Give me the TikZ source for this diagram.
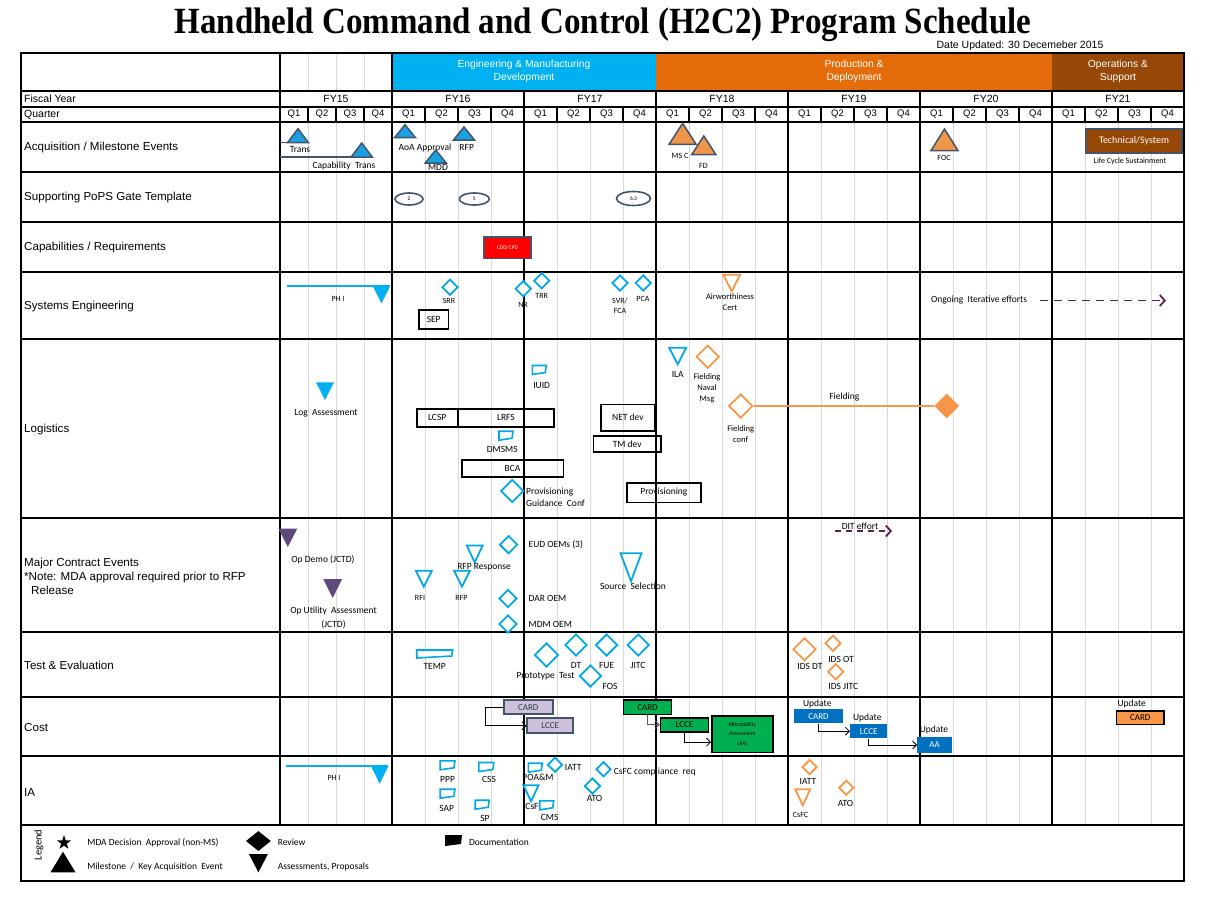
\documentclass[tikz,border=0pt]{standalone}
\usepackage{fontspec}
\setmainfont{Liberation Sans}
\newfontfamily\calibri{Carlito}
\newfontfamily\titlefont{Liberation Serif}
\usepackage{tikz}
\usetikzlibrary{shapes.geometric}
\usetikzlibrary{arrows.meta}
\usetikzlibrary{positioning}

\definecolor{emdblue}{RGB}{0,176,240}
\definecolor{prodorange}{RGB}{228,108,10}
\definecolor{opsbrown}{RGB}{151,71,6}
\definecolor{gridgray}{RGB}{217,217,217}
\definecolor{slate}{RGB}{68,84,106}
\definecolor{msblue}{RGB}{27,161,226}
\definecolor{msorange}{RGB}{240,150,74}
\definecolor{revblue}{RGB}{0,168,232}
\definecolor{revorange}{RGB}{247,150,70}
\definecolor{demopurple}{RGB}{95,73,122}
\definecolor{effpurple}{RGB}{90,30,85}
\definecolor{lavender}{RGB}{204,192,218}
\definecolor{costgreen}{RGB}{0,176,80}
\definecolor{costblue}{RGB}{0,112,192}

\tikzset{
  thickrule/.style={line width=2.8pt},
  qrule/.style={line width=1.6pt},
  gridline/.style={gridgray, line width=0.8pt},
  rowlbl/.style={anchor=west, inner sep=0pt, font=\fontsize{11.6}{14}\selectfont},
  hdrlbl/.style={inner sep=0pt, font=\fontsize{10.5}{12}\selectfont},
  qlbl/.style={inner sep=0pt, font=\fontsize{9.5}{11}\selectfont},
  phaselbl/.style={inner sep=0pt, text=white, align=center, font=\fontsize{10.3}{13}\selectfont},
  lbl/.style={inner sep=0pt, font=\calibri\fontsize{9.5}{11}\selectfont},
  lbls/.style={inner sep=0pt, font=\calibri\fontsize{8}{10}\selectfont},
  lblm/.style={inner sep=0pt, font=\calibri\fontsize{8.5}{10.8}\selectfont},
  rev/.style={diamond, draw=revblue, fill=white, line width=1.8pt, inner sep=0pt, minimum size=#1},
  revo/.style={diamond, draw=revorange, fill=white, line width=1.8pt, inner sep=0pt, minimum size=#1},
  ms/.style={fill=msblue, draw=slate, line width=1.5pt},
  mso/.style={fill=msorange, draw=slate, line width=1.5pt},
  assess/.style={draw=revblue, fill=white, line width=1.8pt},
  assesso/.style={draw=revorange, fill=white, line width=1.8pt},
  docb/.style={draw=revblue, fill=white, line width=1.6pt},
  gate/.style={ellipse, draw=slate, fill=white, line width=1.6pt, minimum width=28pt, minimum height=12pt, inner sep=0pt, font=\calibri\fontsize{5.5}{6}\selectfont},
  taskbox/.style={draw, line width=1.6pt, inner sep=0pt, font=\calibri\fontsize{9.5}{11}\selectfont},
  costbox/.style={inner sep=0pt, font=\calibri\fontsize{9}{11}\selectfont},
  costarr/.style={-{Straight Barb[length=4pt,width=8pt]}, line width=0.8pt},
  effort/.style={effpurple, line width=1.8pt, dash pattern=on 8pt off 6pt, -{Straight Barb[length=5pt,width=11pt]}},
  pics/uptri/.style 2 args={code={
    \path[pic actions] (-#1/2,0) -- (#1/2,0) -- (0,-#2) -- cycle;
    \coordinate (-w) at (-#1/2,0);
    \coordinate (-e) at (#1/2,0);}},
  pics/dntri/.style 2 args={code={
    \path[pic actions] (-#1/2,0) -- (#1/2,0) -- (0,#2) -- cycle;
    \coordinate (-w) at (-#1/2,0);
    \coordinate (-e) at (#1/2,0);}},
  pics/docu/.style 2 args={code={
    \path[pic actions] (-#1/2,-#2/2) -- (#1/2,-#2/2) -- (#1/2-1,#2/2-2) -- (-#1/2,#2/2) -- cycle;}},
}

\begin{document}
\begin{tikzpicture}[x=1pt,y=-1pt]
\useasboundingbox (0,0) rectangle (1206,908);

% title
\node[font=\titlefont\bfseries\fontsize{33}{38}\selectfont, inner sep=0pt] (title) at (603,25) {\scalebox{1}[1.12]{Handheld Command and Control (H2C2) Program Schedule}};
\node[font=\fontsize{10.5}{12}\selectfont, inner sep=0pt] (date) at (1020,46) {Date Updated: 30 Decemeber 2015};

% phases
\foreach \x in {308,336,364} \draw[gridline] (\x,53) -- (\x,91);
\fill[emdblue] (392,53) rectangle (656,91);
\fill[prodorange] (656,53) rectangle (1052,91);
\fill[opsbrown] (1052,53) rectangle (1184,91);
\node[phaselbl] (emd) at (524,71.5) {Engineering \& Manufacturing\\Development};
\node[phaselbl] (pd) at (854,71.5) {Production \&\\Deployment};
\node[phaselbl] (os) at (1118,71.5) {Operations \&\\Support};

% quarter grid
\foreach \x in {308,336,364} \draw[gridline] (\x,122) -- (\x,825);
\foreach \fy in {392,524,656,788,920,1052}
  \foreach \q in {33,66,99} \draw[gridline] (\fy+\q,122) -- (\fy+\q,825);

% header rows
\node[hdrlbl, anchor=west] (fyl) at (24,99) {Fiscal Year};
\node[hdrlbl, anchor=west] (ql) at (24,114.5) {Quarter};
\node[hdrlbl] (fy15) at (336,99) {FY15};
\foreach \q/\x in {1/294,2/322,3/350,4/378} \node[qlbl] (q15\q) at (\x,114.5) {Q\q};
\foreach \fy/\nm in {392/16,524/17,656/18,788/19,920/20,1052/21} {
  \node[hdrlbl] (fy\nm) at (\fy+66,99) {FY\nm};
  \foreach \q in {1,2,3,4} \node[qlbl] (q\nm\q) at (\fy+33*\q-16.5,114.5) {Q\q};
}

% rules
\foreach \x in {308,336,364} \draw[qrule] (\x,107) -- (\x,122);
\foreach \fy in {392,524,656,788,920,1052}
  \foreach \q in {33,66,99} \draw[qrule] (\fy+\q,107) -- (\fy+\q,122);
\foreach \y in {91,107,122,172,222,272,339,518,632,697,756,825} \draw[thickrule] (21,\y) -- (1184,\y);
\foreach \x in {392,524,656,788,920,1052} \draw[thickrule] (\x,91) -- (\x,825);
\draw[thickrule] (280,53) -- (280,825);
\draw[thickrule] (392,53) -- (392,91);
\draw[thickrule] (21,53) rectangle (1184,881);

% row titles
\node[rowlbl] (r-acq) at (24,147) {Acquisition / Milestone Events};
\node[rowlbl] (r-pops) at (24,197) {Supporting PoPS Gate Template};
\node[rowlbl] (r-cap) at (24,247) {Capabilities / Requirements};
\node[rowlbl] (r-se) at (24,306) {Systems Engineering};
\node[rowlbl] (r-log) at (24,429) {Logistics};
\node[rowlbl, align=left] (r-mce) at (24,576) {Major Contract Events\\*Note: MDA approval required prior to RFP\\\hspace*{7pt}Release};
\node[rowlbl] (r-te) at (24,665) {Test \& Evaluation};
\node[rowlbl] (r-cost) at (24,727) {Cost};
\node[rowlbl] (r-ia) at (24,792) {IA};

% acquisition / milestones
\coordinate (acq1) at (280,142.7);
\coordinate (acq2) at (280,157);
\draw[slate, line width=1.5pt] (acq1) -- (300,142.7);
\draw[slate, line width=1.5pt] (acq2) -- (360,157);
\pic[ms] (trans) at (298,142.7) {uptri={21}{14}};
\pic[ms] (captr) at (361.7,157) {uptri={21}{14}};
\node[lbl] (l-trans) at (300,149.5) {Trans};
\node[lbl] (l-captr) at (344,166) {Capability\ \ Trans};
\pic[ms] (aoa) at (405,137.7) {uptri={21}{13}};
\node[lbl] (l-aoa) at (425,147.5) {AoA Approval};
\pic[ms] (mdd) at (435.7,163) {uptri={21}{13}};
\node[lbl] (l-mdd) at (438,167) {MDD};
\pic[ms] (rfp) at (464,140) {uptri={21}{13}};
\node[lbl] (l-rfp) at (466.7,147.5) {RFP};
\pic[mso] (msc) at (682.6,144.3) {uptri={27}{21}};
\node[lbls] (l-msc) at (680,156) {MS C};
\pic[mso] (fd) at (703.8,154.5) {uptri={24}{18.5}};
\node[lbls] (l-fd) at (703.5,165.5) {FD};
\pic[mso] (foc) at (944.5,150.6) {uptri={27}{21.6}};
\node[lbls] (l-foc) at (944,158) {FOC};
\node[draw=slate, fill=opsbrown, line width=1.5pt, minimum width=96pt, minimum height=24pt, inner sep=0pt, text=white, font=\calibri\fontsize{10}{12}\selectfont] (tech) at (1134,141) {Technical/System};
\node[lbls] (l-lcs) at (1130,161.5) {Life Cycle Sustainment};

% PoPS gates
\node[gate] (g2) at (409,199) {2};
\node[gate, minimum width=30pt] (g5) at (474.3,199) {5};
\node[gate, minimum width=34pt, minimum height=14pt] (g63) at (633.5,198.5) {6.3};

% capabilities
\node[draw=slate, fill=red, line width=1.5pt, minimum width=47pt, minimum height=21.5pt, inner sep=0pt, text=white, font=\calibri\fontsize{5.5}{6}\selectfont] (cdd) at (507.5,247.5) {CDD/CPD};

% systems engineering
\coordinate (se-ph) at (287,286.3);
\pic[fill=emdblue] (seph) at (381.5,286.3) {dntri={17}{17}};
\draw[emdblue, line width=2pt] (se-ph) -- (seph-e);
\node[lbls] (l-seph) at (338,298.7) {PH I};
\node[rev=16] (srr) at (450,287.3) {};
\node[lbls] (l-srr) at (449,301) {SRR};
\node[taskbox, minimum width=29.3pt, minimum height=19.3pt] (sep) at (433.7,319.4) {SEP};
\node[rev=16] (nr) at (523.3,288.7) {};
\node[lbls] (l-nr) at (523,304.7) {NR};
\node[rev=16] (trr) at (541.7,280.7) {};
\node[lbls] (l-trr) at (541.7,296.3) {TRR};
\node[rev=16] (svr) at (620,283) {};
\node[lbls, align=center] (l-svr) at (620,305.7) {SVR/\\FCA};
\node[rev=16] (pca) at (643.3,283) {};
\node[lbls] (l-pca) at (643,298.7) {PCA};
\pic[assesso] (awc) at (731.7,274.7) {dntri={17}{16.6}};
\node[lblm, align=center] (l-awc) at (730,301.8) {Airworthiness\\Cert};
\node[lbl] (l-ong) at (979,300.5) {Ongoing\ \ Iterative efforts};
\coordinate (ong-s) at (1040,300.5);
\coordinate (ong-e) at (1166,300.5);
\draw[effort] (ong-s) -- (ong-e);

% logistics
\pic[fill=emdblue] (loga) at (325,382.3) {dntri={18}{17.7}};
\node[lbl] (l-loga) at (326,413.3) {Log\ \ Assessment};
\pic[docb] (iuid) at (539.3,370) {docu={14}{9}};
\node[lbl] (l-iuid) at (541.7,385) {IUID};
\node[taskbox, minimum width=41pt, minimum height=17.7pt] (lcsp) at (437.2,417.9) {LCSP};
\node[taskbox, minimum width=96.3pt, minimum height=17.7pt] (lrfs) at (505.9,417.9) {LRFS};
\pic[docb] (dmsms) at (506,435.7) {docu={14}{9}};
\node[lbl] (l-dmsms) at (502.3,449) {DMSMS};
\node[taskbox, minimum width=101.6pt, minimum height=16.7pt] (bca) at (512.5,468.4) {BCA};
\node[rev=23] (pgc) at (512.3,491) {};
\node[lbl, anchor=west, align=left, font=\calibri\fontsize{9.5}{11.6}\selectfont] (l-pgc) at (526,497.5) {Provisioning\\Guidance\ \ Conf};
\node[taskbox, minimum width=54.3pt, minimum height=26.7pt] (netdev) at (627.9,417.7) {NET dev};
\node[taskbox, minimum width=67.7pt, minimum height=15.7pt] (tmdev) at (627.2,443.9) {TM dev};
\node[taskbox, minimum width=74.3pt, minimum height=19.6pt] (prov) at (663.9,492.5) {Provisioning};
\pic[assess] (ila) at (677.7,347.7) {dntri={17}{16.6}};
\node[lbl] (l-ila) at (677.7,374) {ILA};
\node[revo=23] (fnm) at (707.7,356.7) {};
\node[lblm, align=center] (l-fnm) at (707,388.3) {Fielding\\Naval\\Msg};
\node[revo=24] (fconf) at (740.7,406) {};
\node[lblm, align=center] (l-fconf) at (740.7,433.7) {Fielding\\conf};
\node[revo=23, fill=revorange] (fend) at (946.7,406) {};
\draw[revorange, line width=2.2pt] (fconf) -- (fend);
\node[lbl] (l-field) at (844.3,396.7) {Fielding};

% major contract events
\pic[fill=demopurple] (opdemo) at (287.8,528.5) {dntri={19}{18.5}};
\node[lbl] (l-opdemo) at (323,559.6) {Op Demo (JCTD)};
\pic[fill=demopurple] (opua) at (332.7,579) {dntri={19}{19}};
\node[lbl, align=center, font=\calibri\fontsize{9.5}{13.5}\selectfont] (l-opua) at (333.5,618) {Op Utility\ \ Assessment\\(JCTD)};
\node[rev=18] (eud) at (508.6,544.7) {};
\node[lbl, anchor=west] (l-eud) at (528.5,544.7) {EUD OEMs (3)};
\pic[assess] (rfpr) at (474.7,545.4) {dntri={16}{17}};
\node[lbl] (l-rfpr) at (484,567.4) {RFP Response};
\pic[assess] (rfi) at (423.8,570.7) {dntri={16}{16}};
\node[lbls] (l-rfi) at (420,597.8) {RFI};
\pic[assess] (rfp2) at (462,570.7) {dntri={16}{16}};
\node[lbls] (l-rfp2) at (461.5,597.8) {RFP};
\pic[assess] (srcsel) at (631,553.2) {dntri={21}{28}};
\node[lbl] (l-srcsel) at (633,586.6) {Source\ \ Selection};
\node[rev=18] (dar) at (508,598.4) {};
\node[lbl, anchor=west] (l-dar) at (528.5,598.4) {DAR OEM};
\node[rev=18] (mdm) at (508,624) {};
\node[lbl, anchor=west] (l-mdm) at (528.5,624) {MDM OEM};
\coordinate (dit-s) at (835,531);
\coordinate (dit-e) at (892,531);
\draw[effort, dash pattern=on 6pt off 5pt] (dit-s) -- (dit-e);
\node[lbl] (l-dit) at (860,526) {DIT effort};

% test and evaluation
\pic[docb] (temp) at (434.7,654) {docu={36}{8}};
\node[lbl] (l-temp) at (434.7,666) {TEMP};
\node[rev=24] (proto) at (546.5,655) {};
\node[lbl] (l-proto) at (545.5,676) {Prototype\ \ Test};
\node[rev=22] (dt) at (576,645) {};
\node[lbl] (l-dt) at (576,665) {DT};
\node[rev=22] (fue) at (606.6,645) {};
\node[lbl] (l-fue) at (606.6,665) {FUE};
\node[rev=22] (jitc) at (638.3,645) {};
\node[lbl] (l-jitc) at (638,665) {JITC};
\node[rev=22] (fos) at (590.4,676) {};
\node[lbl] (l-fos) at (610,686.7) {FOS};
\node[revo=23] (idsdt) at (804.5,649.2) {};
\node[lbl] (l-idsdt) at (810,666.9) {IDS DT};
\node[revo=16] (idsot) at (833,643.3) {};
\node[lbl] (l-idsot) at (841,659) {IDS OT};
\node[revo=16] (idsjitc) at (835.7,671.7) {};
\node[lbl] (l-idsjitc) at (843.3,686.7) {IDS JITC};

% cost
\node[costbox, fill=lavender, draw=slate, line width=2pt, minimum width=48.7pt, minimum height=14.3pt, text=slate!70!black] (card1) at (528.3,707.2) {CARD};
\node[costbox, fill=lavender, draw=slate, line width=2pt, minimum width=45.5pt, minimum height=15pt, text=slate!70!black] (lcce1) at (550.2,725.8) {LCCE};
\draw[costarr] (card1.west) -- ++(-18,0) |- (lcce1.west);
\node[costbox, fill=costgreen, draw=black, line width=1.6pt, minimum width=48pt, minimum height=14.3pt] (card2) at (647.5,707.2) {CARD};
\node[costbox, fill=costgreen, draw=black, line width=1.6pt, minimum width=47.8pt, minimum height=14pt] (lcce2) at (684.5,724.7) {LCCE};
\node[costbox, fill=costgreen, draw=black, line width=1.6pt, minimum width=61pt, minimum height=36.3pt, align=center, font=\calibri\fontsize{5.5}{9.5}\selectfont] (aa1) at (742.3,734.2) {Affordability\\Assessment\\(AA)};
\draw[costarr, black!65] (card2.south) |- (lcce2.west);
\draw[costarr] (lcce2.south) |- ([yshift=-8pt]aa1.west);
\node[lbl] (l-upd1) at (817.3,704) {Update};
\node[costbox, fill=costblue, text=white, minimum width=48.4pt, minimum height=14pt] (card3) at (818.5,716.3) {CARD};
\node[lbl] (l-upd2) at (867.3,718.3) {Update};
\node[costbox, fill=costblue, text=white, minimum width=37.3pt, minimum height=14.3pt] (lcce3) at (868.7,731.2) {LCCE};
\node[lbl] (l-upd3) at (934,730) {Update};
\node[costbox, fill=costblue, text=white, minimum width=34.4pt, minimum height=16.6pt] (aa2) at (934.5,745) {AA};
\draw[costarr] (card3.south) |- (lcce3.west);
\draw[costarr] (lcce3.south) |- (aa2.west);
\node[lbl] (l-upd4) at (1131.7,704) {Update};
\node[costbox, fill=revorange, draw=black, line width=1.6pt, minimum width=47.3pt, minimum height=13.6pt] (card4) at (1140.3,717.5) {CARD};

% IA
\coordinate (ia-ph) at (285.5,766);
\pic[fill=emdblue] (iaph) at (379.7,766) {dntri={17.4}{17.7}};
\draw[emdblue, line width=2pt] (ia-ph) -- (iaph-e);
\node[lbls] (l-iaph) at (334,778) {PH I};
\pic[docb] (ppp) at (447.6,765.3) {docu={14.7}{9}};
\node[lbl] (l-ppp) at (447.6,779.7) {PPP};
\pic[docb] (css) at (486.3,767) {docu={15}{9}};
\node[lbl] (l-css) at (489,779.7) {CSS};
\pic[docb] (sap) at (447.6,793.7) {docu={14.7}{9}};
\node[lbl] (l-sap) at (446.7,808) {SAP};
\pic[docb] (sp) at (482.2,804.7) {docu={14}{9}};
\node[lbl] (l-sp) at (485,818) {SP};
\pic[docb] (poam) at (535.3,767.7) {docu={14}{9}};
\node[lbl] (l-poam) at (538,777) {POA\&M};
\node[rev=15] (iatt) at (555,764.7) {};
\node[lbl, anchor=west] (l-iatt) at (564.7,767) {IATT};
\node[rev=15] (csfcr) at (603.5,769.3) {};
\node[lbl, anchor=west] (l-csfcr) at (613.7,772.2) {CsFC compliance\ \ req};
\node[rev=16] (ato) at (592.4,786) {};
\node[lbl] (l-ato) at (594.5,798.7) {ATO};
\pic[assess] (csfc) at (531,785.3) {dntri={15}{16}};
\node[lbl] (l-csfc) at (534.5,806) {CsFC};
\pic[docb] (cms) at (546.7,805.3) {docu={14}{9}};
\node[lbl] (l-cms) at (549.6,817) {CMS};
\node[revo=15] (iatt2) at (809.6,767) {};
\node[lbl] (l-iatt2) at (808,781) {IATT};
\pic[assesso] (csfc2) at (802.7,789.3) {dntri={15}{16}};
\node[lbls] (l-csfc2) at (800.6,814.7) {CsFC};
\node[revo=15] (ato2) at (846.3,787.7) {};
\node[lbl] (l-ato2) at (845.5,803) {ATO};

% legend
\node[rotate=90, inner sep=0pt, font=\calibri\fontsize{10.5}{12}\selectfont] (legend) at (39,845) {Legend};
\node[star, star points=5, star point ratio=2.5, fill=black, inner sep=0pt, minimum size=15pt] (lg-star) at (64,842.7) {};
\pic[fill=black] (lg-ms) at (63,872.3) {uptri={25}{20.6}};
\node[lbl, anchor=west] (lg-mda) at (87.2,842.7) {MDA Decision\ \ Approval (non-MS)};
\node[lbl, anchor=west] (lg-mke) at (87.2,866.7) {Milestone\ \ /\ \ Key Acquisition\ \ Event};
\node[diamond, fill=black, inner sep=0pt, minimum width=25pt, minimum height=20pt] (lg-rev) at (258.4,841) {};
\pic[fill=black] (lg-ap) at (258.4,854) {dntri={19}{18.3}};
\node[lbl, anchor=west] (lg-revl) at (277.6,842.7) {Review};
\node[lbl, anchor=west] (lg-apl) at (277.6,866.7) {Assessments, Proposals};
\pic[fill=black] (lg-doc) at (453.5,840.5) {docu={17}{11}};
\node[lbl, anchor=west] (lg-docl) at (468.8,842.7) {Documentation};
\end{tikzpicture}
\end{document}
